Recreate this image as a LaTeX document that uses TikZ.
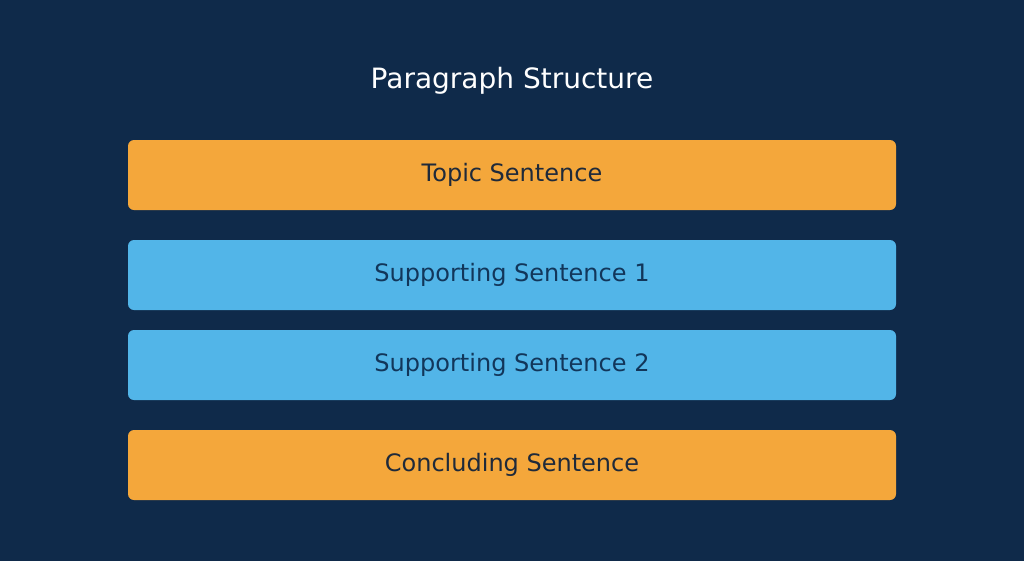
\documentclass[tikz,border=0pt]{standalone}
\usepackage{fontspec}
\setmainfont{DejaVu Sans}
\definecolor{bgnavy}{HTML}{0F2A4A}
\definecolor{keyorange}{HTML}{F4A73B}
\definecolor{supblue}{HTML}{52B5E8}
\definecolor{darktext}{HTML}{1F2A3A}
\definecolor{bluetext}{HTML}{12365A}
\begin{document}
\begin{tikzpicture}[x=1pt,y=-1pt,
  part/.style = {rounded corners=6pt, minimum width=768pt, minimum height=70pt, inner sep=0pt, font=\fontsize{24}{29}\selectfont},
  keypart/.style = {part, fill=keyorange, text=darktext},
  suppart/.style = {part, fill=supblue, text=bluetext}]
	\useasboundingbox (0,0) rectangle (1024,560);
	\fill[bgnavy] (-2,-2) rectangle (1026,562);
	\node[text=white, font=\fontsize{28}{33}\selectfont] (title) at (512,81) {Paragraph Structure};
	\node[keypart] (topic) at (512,175) {Topic Sentence};
	\node[suppart] (sup1) at (512,275) {Supporting Sentence 1};
	\node[suppart] (sup2) at (512,365) {Supporting Sentence 2};
	\node[keypart] (concl) at (512,465) {Concluding Sentence};
\end{tikzpicture}
\end{document}
